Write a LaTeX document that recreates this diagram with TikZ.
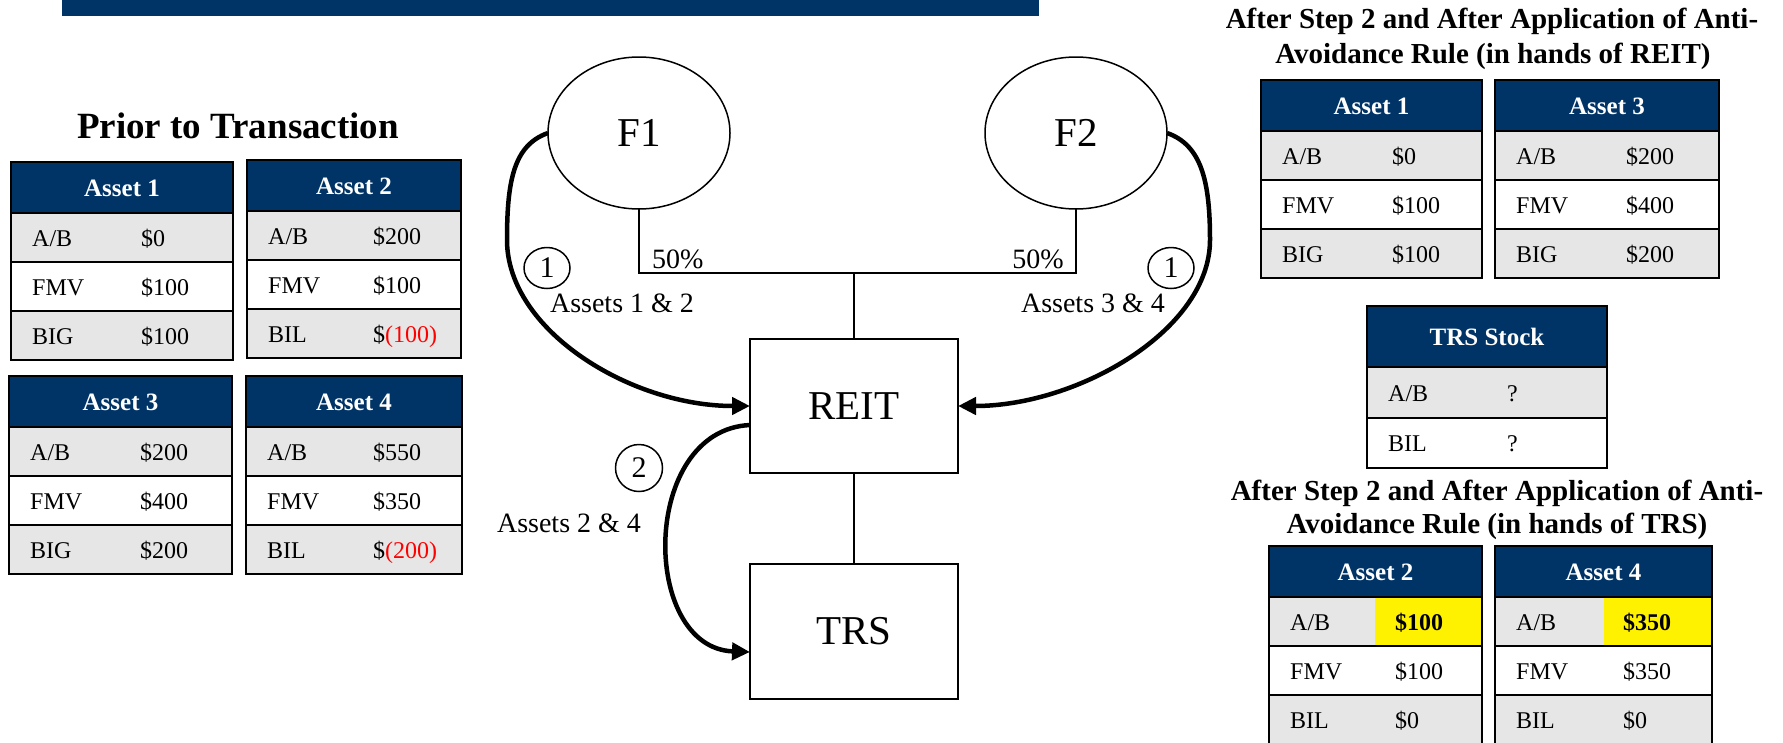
\documentclass[tikz,border=0pt]{standalone}
\usepackage{fontspec}
\setmainfont{Liberation Serif}
\usetikzlibrary{arrows.meta,shapes.geometric}

\definecolor{navy}{RGB}{0,51,102}
\definecolor{rowgray}{RGB}{231,230,230}

% table header: name, x, y, width, height, title
\newcommand{\tabhead}[6]{
  \draw[hdr] (#2,#3) rectangle ++(#4,#5);
  \node[hdrtext] (#1) at (#2+#4/2,#3+#5/2+9) {#6};
}
% table row: name, x, y, width, height, fill, label, value offset, value
\newcommand{\tabrow}[9]{
  \draw[cell, fill=#6] (#2,#3) rectangle ++(#4,#5);
  \node[celltext] (#1-l) at (#2+21,#3+#5/2+8.5) {#7};
  \node[celltext] (#1-v) at (#2+#8,#3+#5/2+8.5) {#9};
}

\begin{document}
\begin{tikzpicture}[x=1pt, y=-1pt,
    hdr/.style={draw=black, line width=2.5pt, fill=navy},
    cell/.style={draw=black, line width=2.5pt},
    hdrtext/.style={anchor=base, inner sep=0, text=white, font=\fontsize{25pt}{30pt}\selectfont\bfseries},
    celltext/.style={anchor=base west, inner sep=0, font=\fontsize{24pt}{29pt}\selectfont},
    title/.style={anchor=base, inner sep=0, font=\fontsize{29pt}{34pt}\selectfont\bfseries},
    entity/.style={draw, line width=1.5pt, inner sep=0, outer sep=0, font=\fontsize{41pt}{48pt}\selectfont},
    lbl/.style={inner sep=0, font=\fontsize{28pt}{34pt}\selectfont},
    numcirc/.style={ellipse, draw, line width=1.5pt, inner sep=0, font=\fontsize{30pt}{36pt}\selectfont},
    link/.style={line width=1.5pt},
    flow/.style={line width=4.5pt, -{Triangle[length=18pt,width=17pt]}},
  ]
\useasboundingbox (0,0) rectangle (1783,742);

\fill[navy] (62,0) rectangle (1039,16);

% prior to transaction
\node[title, font=\fontsize{37pt}{44pt}\selectfont\bfseries] (prior) at (238,138) {Prior to Transaction};

\tabhead{a1}{11}{162}{222}{51}{Asset 1}
\tabrow{a1r1}{11}{213}{222}{49}{rowgray}{A/B}{130}{\$0}
\tabrow{a1r2}{11}{262}{222}{49}{white}{FMV}{130}{\$100}
\tabrow{a1r3}{11}{311}{222}{49}{rowgray}{BIG}{130}{\$100}

\tabhead{a2}{247}{160}{214}{51}{Asset 2}
\tabrow{a2r1}{247}{211}{214}{49}{rowgray}{A/B}{126}{\$200}
\tabrow{a2r2}{247}{260}{214}{49}{white}{FMV}{126}{\$100}
\tabrow{a2r3}{247}{309}{214}{49}{rowgray}{BIL}{126}{\$\textcolor{red}{(100)}}

\tabhead{a3}{9}{376}{223}{51}{Asset 3}
\tabrow{a3r1}{9}{427}{223}{49}{rowgray}{A/B}{131}{\$200}
\tabrow{a3r2}{9}{476}{223}{49}{white}{FMV}{131}{\$400}
\tabrow{a3r3}{9}{525}{223}{49}{rowgray}{BIG}{131}{\$200}

\tabhead{a4}{246}{376}{216}{51}{Asset 4}
\tabrow{a4r1}{246}{427}{216}{49}{rowgray}{A/B}{127}{\$550}
\tabrow{a4r2}{246}{476}{216}{49}{white}{FMV}{127}{\$350}
\tabrow{a4r3}{246}{525}{216}{49}{rowgray}{BIL}{127}{\$\textcolor{red}{(200)}}

% structure
\node[entity, ellipse, minimum width=182pt, minimum height=152pt] (F1) at (639,133) {F1};
\node[entity, ellipse, minimum width=182pt, minimum height=152pt] (F2) at (1076,133) {F2};
\node[entity, rectangle, minimum width=208pt, minimum height=134pt] (REIT) at (854,406) {REIT};
\node[entity, rectangle, minimum width=208pt, minimum height=135pt] (TRS) at (854,631.5) {TRS};

\coordinate (join) at (854,273);
\draw[link] (F1.south) |- (join) -| (F2.south);
\draw[link] (join) -- (REIT.north);
\draw[link] (REIT.south) -- (TRS.north);

\node[lbl, anchor=base west] (pct1) at (652,268) {50\%};
\node[lbl, anchor=base east] (pct2) at (1064,268) {50\%};

\coordinate (bendL) at (507,240);
\coordinate (bendR) at (1210,240);
\draw[flow] (F1.west) .. controls +(-34,12) and +(0,-60) .. (bendL)
  .. controls +(0,90) and +(-120,0) .. (REIT.west);
\draw[flow] (F2.east) .. controls +(34,12) and +(0,-60) .. (bendR)
  .. controls +(0,90) and +(120,0) .. (REIT.east);
\draw[flow] ([yshift=-19pt]REIT.west) .. controls +(-110,5) and +(-110,-4) .. ([yshift=-20.5pt]TRS.west);

\node[numcirc, minimum width=46pt, minimum height=41pt] (step1L) at (547,268) {1};
\node[numcirc, minimum width=46pt, minimum height=41pt] (step1R) at (1171,268) {1};
\node[numcirc, minimum width=47pt, minimum height=47pt] (step2) at (639,468) {2};

\node[lbl, anchor=base] (as12) at (622,312) {Assets 1 \& 2};
\node[lbl, anchor=base] (as34) at (1093,312) {Assets 3 \& 4};
\node[lbl, anchor=base] (as24) at (569,532) {Assets 2 \& 4};

% after step 2, REIT
\node[title] (reitT1) at (1492,28) {After Step 2 and After Application of Anti-};
\node[title] (reitT2) at (1493,63) {Avoidance Rule (in hands of REIT)};

\tabhead{r1}{1261}{80}{221}{51}{Asset 1}
\tabrow{r1r1}{1261}{131}{221}{49}{rowgray}{A/B}{131}{\$0}
\tabrow{r1r2}{1261}{180}{221}{49}{white}{FMV}{131}{\$100}
\tabrow{r1r3}{1261}{229}{221}{49}{rowgray}{BIG}{131}{\$100}

\tabhead{r3}{1495}{80}{224}{51}{Asset 3}
\tabrow{r3r1}{1495}{131}{224}{49}{rowgray}{A/B}{131}{\$200}
\tabrow{r3r2}{1495}{180}{224}{49}{white}{FMV}{131}{\$400}
\tabrow{r3r3}{1495}{229}{224}{49}{rowgray}{BIG}{131}{\$200}

\tabhead{ts}{1367}{306}{240}{61}{TRS Stock}
\tabrow{tsr1}{1367}{367}{240}{51}{rowgray}{A/B}{140}{?}
\tabrow{tsr2}{1367}{418}{240}{50}{white}{BIL}{140}{?}

% after step 2, TRS
\node[title] (trsT1) at (1497,500) {After Step 2 and After Application of Anti-};
\node[title] (trsT2) at (1497,533) {Avoidance Rule (in hands of TRS)};

\tabhead{t2}{1269}{546}{213}{51}{Asset 2}
\draw[cell, fill=rowgray] (1269,597) rectangle ++(213,49);
\fill[yellow] (1375,598.25) rectangle (1480.75,644.75);
\node[celltext] (t2ab) at (1290,630) {A/B};
\node[celltext, font=\fontsize{24pt}{29pt}\selectfont\bfseries] (t2abv) at (1395,630) {\$100};
\tabrow{t2r2}{1269}{646}{213}{49}{white}{FMV}{126}{\$100}
\tabrow{t2r3}{1269}{695}{213}{50}{rowgray}{BIL}{126}{\$0}

\tabhead{t4}{1495}{546}{217}{51}{Asset 4}
\draw[cell, fill=rowgray] (1495,597) rectangle ++(217,49);
\fill[yellow] (1604,598.25) rectangle (1710.75,644.75);
\node[celltext] (t4ab) at (1516,630) {A/B};
\node[celltext, font=\fontsize{24pt}{29pt}\selectfont\bfseries] (t4abv) at (1623,630) {\$350};
\tabrow{t4r2}{1495}{646}{217}{49}{white}{FMV}{128}{\$350}
\tabrow{t4r3}{1495}{695}{217}{50}{rowgray}{BIL}{128}{\$0}
\end{tikzpicture}
\end{document}
